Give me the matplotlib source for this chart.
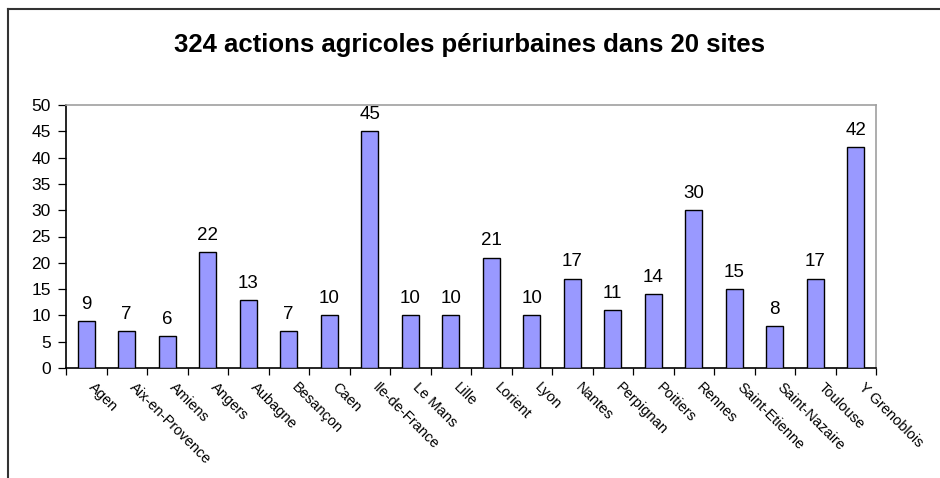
import matplotlib
matplotlib.use("Agg")
import matplotlib.pyplot as plt
from matplotlib.lines import Line2D

sites = ["Agen", "Aix-en-Provence", "Amiens", "Angers", "Aubagne", "Besançon", "Caen",
         "Ile-de-France", "Le Mans", "Lille", "Lorient", "Lyon", "Nantes", "Perpignan",
         "Poitiers", "Rennes", "Saint-Etienne", "Saint-Nazaire", "Toulouse", "Y Grenoblois"]
actions = [9, 7, 6, 22, 13, 7, 10, 45, 10, 10, 21, 10, 17, 11, 14, 30, 15, 8, 17, 42]
title = "324 actions agricoles périurbaines dans 20 sites"

plt.rcParams['font.family'] = ['Liberation Sans', 'DejaVu Sans']

W, H = 940, 478
fig = plt.figure(figsize=(W/100, H/100), dpi=100)
ax = fig.add_axes([66/W, 1-368/H, (876-66)/W, (368-105)/H])

x = list(range(len(sites)))
ax.bar(x, actions, width=0.42, color="#9999FF", edgecolor="black", linewidth=1.0, zorder=3)
for xi, v in zip(x, actions):
    ax.text(xi, v + 2.3, str(v), ha="center", va="baseline", fontsize=13.5)

ax.set_xlim(-0.5, len(sites) - 0.5)
ax.set_ylim(0, 50)
ax.set_yticks(range(0, 51, 5))
ax.tick_params(axis="y", labelsize=12.5, length=6, width=0.9, direction="out", pad=5)
ax.set_xticks([i - 0.5 for i in range(len(sites) + 1)])
ax.set_xticklabels([])
ax.tick_params(axis="x", length=5, width=0.9, direction="out")
for xi, name in zip(x, sites):
    ax.text(xi + 0.12, -3.3, name, rotation=-45, rotation_mode="anchor",
            ha="left", va="center", fontsize=10.5)

ax.spines["left"].set_color("black")
ax.spines["bottom"].set_color("black")
ax.spines["top"].set_color("#A0A0A0")
ax.spines["right"].set_color("#A0A0A0")
for s in ax.spines.values():
    s.set_linewidth(1.2)

fig.text(0.5, 1-45/H, title, ha="center", va="center", fontsize=18.5, fontweight="bold")

fig.add_artist(Line2D([8/W, 8/W], [0, 1-9/H], transform=fig.transFigure, color="#333333", lw=1.5))
fig.add_artist(Line2D([8/W, 1], [1-9/H, 1-9/H], transform=fig.transFigure, color="#333333", lw=1.5))

fig.savefig("out.png", dpi=100)
